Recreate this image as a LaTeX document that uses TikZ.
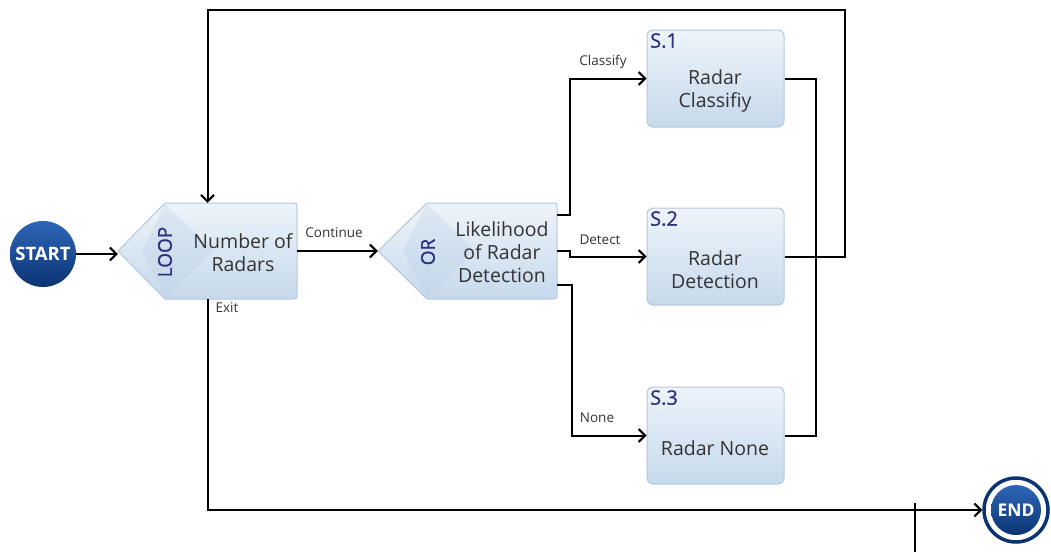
\documentclass[tikz,border=0pt]{standalone}
\usepackage{fontspec}
\setmainfont{Open Sans}
\newfontfamily\semib[FakeBold=0.7]{Open Sans}
\usetikzlibrary{arrows.meta,calc}
\definecolor{boxtop}{HTML}{EEF4FA}
\definecolor{boxbot}{HTML}{C6D9EC}
\definecolor{boxborder}{HTML}{B5C7DA}
\definecolor{bandcol}{HTML}{B9CFE6}
\definecolor{navy}{HTML}{2C2F80}
\definecolor{txt}{HTML}{333333}
\definecolor{btop}{HTML}{2E66B8}
\definecolor{bbot}{HTML}{0B3472}
\begin{document}
\begin{tikzpicture}[x=1pt,y=-1pt,
  line/.style={line width=2pt, black},
  arr/.style={line, -{Straight Barb[length=6.5pt,width=13pt]}},
  box/.style={draw=boxborder, line width=1pt, rounded corners=6pt, top color=boxtop, bottom color=boxbot, minimum width=137pt, minimum height=97pt, inner sep=0pt},
  penta/.style={draw=boxborder, line width=1pt, top color=boxtop, bottom color=boxbot},
  band/.style={fill=bandcol, fill opacity=0.3},
  anchorbox/.style={rectangle, minimum width=179pt, minimum height=96pt, inner sep=0pt},
  maintext/.style={text=txt, align=center, font=\fontsize{19.5}{23}\selectfont},
  slabel/.style={text=navy, font=\semib\fontsize{20}{20}\selectfont, anchor=north west, inner sep=0pt},
  kind/.style={text=navy, font=\semib\fontsize{19}{19}\selectfont, rotate=90},
  lab/.style={text=txt, font=\fontsize{13.5}{14}\selectfont},
  startc/.style={circle, minimum size=66pt, inner sep=0pt, top color=btop, bottom color=bbot, text=white, font=\bfseries\fontsize{18.5}{19}\selectfont},
  endring/.style={circle, minimum size=64pt, inner sep=0pt, draw=bbot, line width=3.5pt, fill=white},
  endin/.style={circle, minimum size=50pt, inner sep=0pt, top color=btop, bottom color=bbot, text=white, font=\bfseries\fontsize{17.5}{18}\selectfont}
]
\useasboundingbox (0,0) rectangle (1051,552);

% START
\node[startc] (start) at (43,254) {START};

% LOOP shape
\path[penta] (118,251) -- (165,203) -- (291,203) .. controls (297,203) .. (297,209) -- (297,293) .. controls (297,299) .. (291,299) -- (165,299) -- cycle;
\path[band] (165,204) -- (214,251) -- (165,298) -- (142,251) -- cycle;
\node[anchorbox] (loop) at (207.5,251) {};
\node[kind] (looplabel) at (165,252) {LOOP};
\node[maintext] (looptext) at (243,253) {Number of\\Radars};

% OR shape
\path[penta] (378,251) -- (427,203) -- (551,203) .. controls (557,203) .. (557,209) -- (557,293) .. controls (557,299) .. (551,299) -- (427,299) -- cycle;
\path[band] (427,204) -- (474,251) -- (427,298) -- (403,251) -- cycle;
\node[anchorbox] (or) at (467.5,251) {};
\node[kind] (orlabel) at (428,252) {OR};
\node[maintext] (ortext) at (502,252) {Likelihood\\of Radar\\Detection};

% Boxes
\node[box] (s1) at (715.5,78.5) {};
\node[slabel] (s1l) at (650,33) {S.1};
\node[maintext] (s1t) at (715,91) {Radar\\Classifiy};

\node[box] (s2) at (715.5,256.5) {};
\node[slabel] (s2l) at (650,211) {S.2};
\node[maintext] (s2t) at (715,270) {Radar\\Detection};

\node[box] (s3) at (715.5,435.5) {};
\node[slabel] (s3l) at (650,390) {S.3};
\node[maintext] (s3t) at (715,448) {Radar None};

% END
\node[endring] (endc) at (1016,510) {};
\node[endin] (endi) at (1016,510) {END};

% coordinates
\coordinate (tr) at (845,10);
\coordinate (v1) at (915,503);
\coordinate (v2) at (915,552);

% connectors
\draw[arr] (start.east) -- (start.east -| loop.west);
\draw[arr] (loop.east) -- (or.west);
\draw[arr] ($(or.north east)+(0,12)$) -- ++(13,0) |- (s1.west);
\draw[arr] (or.east) -- ++(13,0) |- (s2.west);
\draw[arr] ($(or.south east)+(0,-14)$) -- ++(15,0) |- (s3.west);
\draw[line] (s1.east) -- ++(31,0) |- (s3.east);
\draw[arr] (s2.east) -| (tr) -| (loop.north);
\draw[arr] (loop.south) |- (endc.west);
\draw[line] (v1) -- (v2);

% labels
\node[lab] (lcont) at (334,233) {Continue};
\node[lab] (lcls) at (603,62) {Classify};
\node[lab] (ldet) at (600,240) {Detect};
\node[lab] (lnone) at (597,418) {None};
\node[lab] (lexit) at (227,308) {Exit};
\end{tikzpicture}
\end{document}
